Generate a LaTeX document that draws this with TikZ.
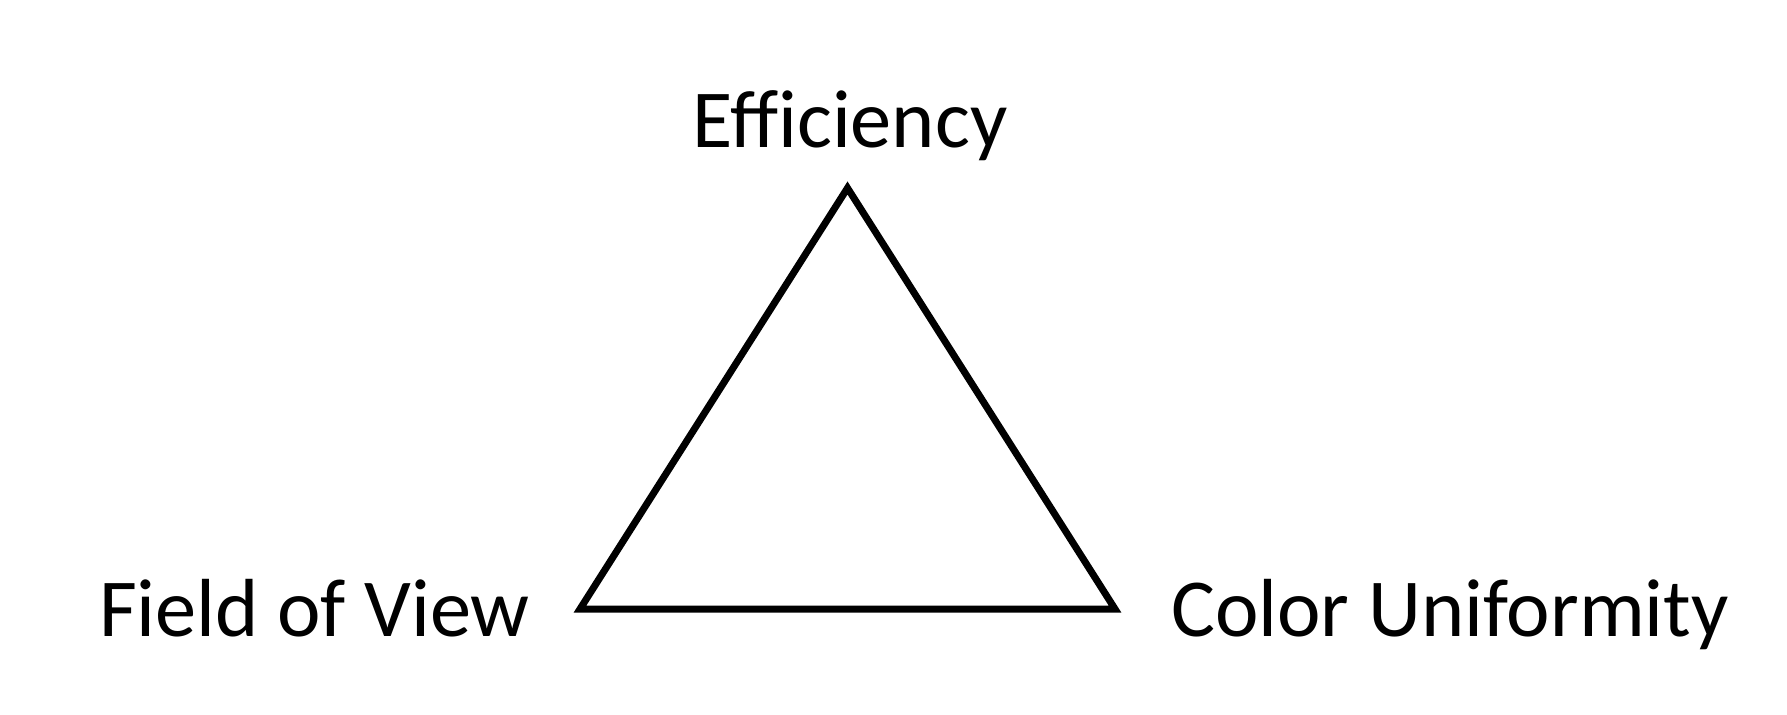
\documentclass[tikz,border=0pt]{standalone}
\usepackage{fontspec}
\setmainfont{Carlito}
\begin{document}
\begin{tikzpicture}[x=1pt,y=1pt,
  lbl/.style={inner sep=0pt, anchor=base, font=\fontsize{41.2}{48}\selectfont},
  tri/.style={draw=black, line width=3.5pt, miter limit=10}]
\useasboundingbox (0,0) rectangle (893.5,357);
\coordinate (A) at (423.75,263);
\coordinate (L) at (290,52.5);
\coordinate (R) at (557.5,52.5);
\draw[tri] (A) -- (L) -- (R) -- cycle;
\node[lbl] (eff) at (425,283.5) {Eff\kern0pt iciency};
\node[lbl] (fov) at (157.25,39) {Field of View};
\node[lbl] (cu) at (725,39) {Color Uniformity};
\end{tikzpicture}
\end{document}
